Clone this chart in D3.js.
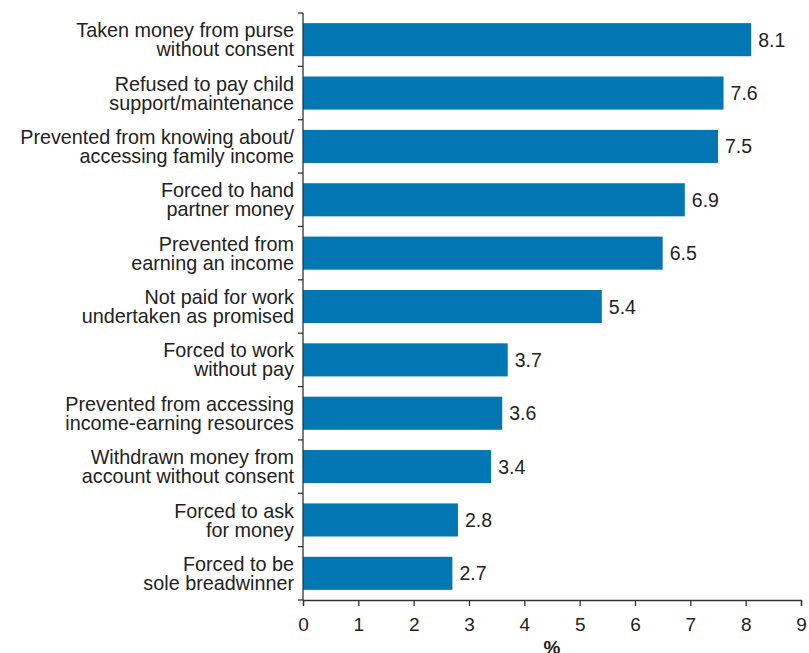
<!DOCTYPE html>
<html>
<head>
<meta charset="utf-8">
<script src="https://cdn.jsdelivr.net/npm/d3@7"></script>
<style>
  body { margin: 0; background: #fff; }
  text { font-family: "Liberation Sans", Arial, Helvetica, sans-serif; fill: #222; }
</style>
</head>
<body>
<svg id="chart" width="809" height="653"></svg>
<script>
// Economic abuse experiences, percentages
const categories = [
  ["Taken money from purse", "without consent"],
  ["Refused to pay child", "support/maintenance"],
  ["Prevented from knowing about/", "accessing family income"],
  ["Forced to hand", "partner money"],
  ["Prevented from", "earning an income"],
  ["Not paid for work", "undertaken as promised"],
  ["Forced to work", "without pay"],
  ["Prevented from accessing", "income-earning resources"],
  ["Withdrawn money from", "account without consent"],
  ["Forced to ask", "for money"],
  ["Forced to be", "sole breadwinner"]
];
const values = [8.1, 7.6, 7.5, 6.9, 6.5, 5.4, 3.7, 3.6, 3.4, 2.8, 2.7];
const xTicks = [0, 1, 2, 3, 4, 5, 6, 7, 8, 9];
const xTitle = "%";

const svg = d3.select("#chart");
const margin = { left: 303, right: 8, top: 13, bottom: 53 };
const W = 809, H = 653;

const keys = categories.map((c, i) => i);
const x = d3.scaleLinear().domain([0, 9]).range([margin.left, W - margin.right]);
const y = d3.scaleBand().domain(keys).range([margin.top, H - margin.bottom]).paddingInner(0.38).paddingOuter(0.19);

// bars
svg.append("g").selectAll("rect").data(values).join("rect")
  .attr("x", x(0))
  .attr("y", (d, i) => y(i))
  .attr("width", d => x(d) - x(0))
  .attr("height", y.bandwidth())
  .attr("fill", "#0277b4");

// value labels
svg.append("g").selectAll("text").data(values).join("text")
  .attr("x", d => x(d) + 7)
  .attr("y", (d, i) => y(i) + y.bandwidth() / 2)
  .attr("dy", "0.36em")
  .attr("font-size", 19.5)
  .text(d => d.toFixed(1));

// y axis: line with ticks at band boundaries
const yAxis = svg.append("g").attr("stroke", "#333").attr("stroke-width", 1.3);
yAxis.append("line")
  .attr("x1", x(0)).attr("x2", x(0))
  .attr("y1", margin.top).attr("y2", H - margin.bottom);
const bounds = d3.range(keys.length + 1).map(i => margin.top + i * (H - margin.bottom - margin.top) / keys.length);
yAxis.selectAll("line.tick").data(bounds).join("line")
  .attr("class", "tick")
  .attr("x1", x(0) - 5).attr("x2", x(0))
  .attr("y1", d => d).attr("y2", d => d);

// category labels
const lab = svg.append("g");
categories.forEach((lines, i) => {
  const cy = y(i) + y.bandwidth() / 2;
  const t = lab.append("text")
    .attr("x", x(0) - 9)
    .attr("text-anchor", "end")
    .attr("font-size", 19.8);
  lines.forEach((ln, j) => {
    t.append("tspan")
      .attr("x", x(0) - 9)
      .attr("y", cy + (j - (lines.length - 1) / 2) * 19)
      .attr("dy", "0.36em")
      .text(ln);
  });
});

// x axis
const xAxis = svg.append("g")
  .attr("transform", `translate(0,${H - margin.bottom})`)
  .call(d3.axisBottom(x).tickValues(xTicks).tickFormat(d3.format("d")).tickSizeOuter(0).tickSize(6).tickPadding(12));
xAxis.select(".domain").attr("stroke", "#333").attr("stroke-width", 1.3);
xAxis.selectAll(".tick line").attr("stroke", "#333").attr("stroke-width", 1.3);
xAxis.selectAll(".tick text").attr("font-size", 19).attr("fill", "#222")
  .attr("font-family", '"Liberation Sans", Arial, sans-serif');

svg.append("text")
  .attr("x", (x(0) + x(9)) / 2)
  .attr("y", H + 1)
  .attr("text-anchor", "middle")
  .attr("font-size", 19)
  .attr("font-weight", "bold")
  .text(xTitle);
</script>
</body>
</html>
